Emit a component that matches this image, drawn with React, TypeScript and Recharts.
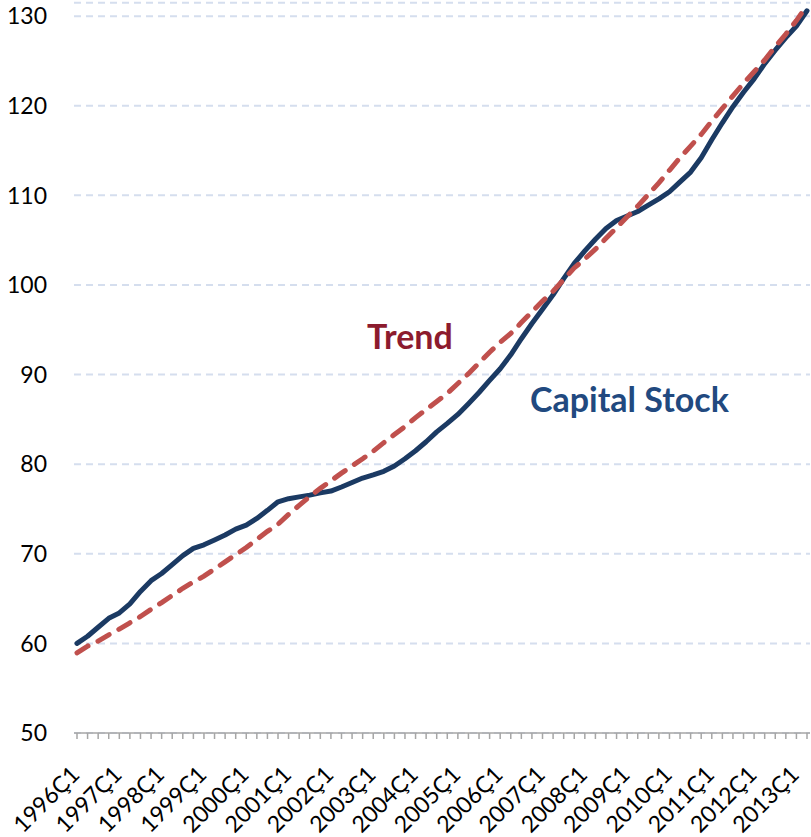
import React from 'react';
import { LineChart, Line, XAxis, YAxis, CartesianGrid } from 'recharts';

const YEARS = [1996, 1997, 1998, 1999, 2000, 2001, 2002, 2003, 2004, 2005, 2006, 2007, 2008, 2009, 2010, 2011, 2012, 2013];
const QUARTERS = ['Ç1', 'Ç2', 'Ç3', 'Ç4'];
const CATEGORIES: string[] = YEARS.flatMap((y) => QUARTERS.map((q) => `${y}${q}`)).slice(0, 70);

const CAPITAL_STOCK = [
  60.0, 60.8, 61.8, 62.8, 63.4, 64.4, 65.8, 67.0, 67.8, 68.8,
  69.8, 70.6, 71.0, 71.55, 72.1, 72.75, 73.2, 73.95, 74.85, 75.8,
  76.15, 76.35, 76.55, 76.8, 77.0, 77.45, 77.95, 78.45, 78.8, 79.2,
  79.8, 80.6, 81.5, 82.5, 83.6, 84.55, 85.55, 86.75, 88.0, 89.35,
  90.65, 92.2, 94.0, 95.7, 97.3, 98.9, 100.7, 102.4, 103.8, 105.1,
  106.3, 107.2, 107.7, 108.2, 108.9, 109.6, 110.4, 111.5, 112.6, 114.2,
  116.2, 118.1, 119.9, 121.5, 123.0, 124.7, 126.2, 127.6, 128.9, 130.6,
];

const TREND = [
  58.95, 59.7, 60.25, 60.95, 61.6, 62.3, 63.0, 63.8, 64.55, 65.35,
  66.15, 66.85, 67.5, 68.3, 69.1, 69.9, 70.7, 71.6, 72.5, 73.3,
  74.4, 75.4, 76.4, 77.3, 78.15, 79.0, 79.8, 80.6, 81.45, 82.4,
  83.3, 84.2, 85.2, 86.1, 87.0, 87.9, 89.0, 90.1, 91.3, 92.5,
  93.6, 94.6, 95.8, 97.0, 98.2, 99.3, 100.6, 101.9, 102.9, 104.0,
  105.2, 106.4, 107.6, 108.8, 110.1, 111.4, 112.8, 114.2, 115.5, 116.8,
  118.3, 119.7, 121.1, 122.5, 123.8, 125.1, 126.6, 128.0, 129.5, 131.2,
];

const Y_TICKS = [50, 60, 70, 80, 90, 100, 110, 120, 130];

const DATA = CATEGORIES.map((c, i) => ({ q: c, capital: CAPITAL_STOCK[i], trend: TREND[i] }));

const FONT = 'Lato, "Open Sans", sans-serif';

const XTick = (props: any) => {
  const { x, y, payload, index } = props;
  const i = typeof index === 'number' ? index : payload.index;
  const ax = x + 4;
  const ay = y + 43;
  return (
    <g>
      <line x1={x} y1={y} x2={x} y2={y + 6} stroke="#A6A6A6" strokeWidth={1.5} />
      {i % 4 === 0 && (
        <text
          x={ax}
          y={ay}
          textAnchor="end"
          transform={`rotate(-45 ${ax} ${ay})`}
          fontFamily={FONT}
          fontSize={23}
          fill="#000"
        >
          {payload.value}
        </text>
      )}
    </g>
  );
};

export default function App() {
  return (
    <div style={{ position: 'absolute', left: 0, top: 0, width: 811, height: 837, background: '#fff' }}>
      <LineChart
        width={811}
        height={837}
        data={DATA}
        margin={{ top: 2.7, right: 1, left: 0, bottom: 0 }}
      >
        <CartesianGrid vertical={false} stroke="#D5DEEE" strokeWidth={2} strokeDasharray="7 5" />
        <XAxis
          dataKey="q"
          height={104}
          interval={0}
          tickLine={false}
          tickSize={0}
          tickMargin={0}
          padding={{ left: 3, right: 3 }}
          axisLine={{ stroke: '#A6A6A6', strokeWidth: 1.5 }}
          tick={<XTick />}
        />
        <YAxis
          width={74}
          domain={[50, 131.5]}
          ticks={Y_TICKS}
          allowDataOverflow
          axisLine={false}
          tickLine={false}
          tickSize={0}
          tickMargin={27}
          tick={{ fontFamily: FONT, fontSize: 23, fill: '#000' }}
        />
        <Line
          type="linear"
          dataKey="capital"
          stroke="#1B3A63"
          strokeWidth={5}
          dot={false}
          isAnimationActive={false}
          strokeLinejoin="round"
          strokeLinecap="round"
        />
        <Line
          type="linear"
          dataKey="trend"
          stroke="#C0504D"
          strokeWidth={5}
          strokeDasharray="13 11"
          strokeLinecap="round"
          dot={false}
          isAnimationActive={false}
        />
      </LineChart>
      <svg
        width={811}
        height={837}
        style={{ position: 'absolute', left: 0, top: 0, pointerEvents: 'none' }}
      >
        <text x={367} y={349} fontFamily={FONT} fontWeight="bold" fontSize={34} fill="#8C1B2E">
          Trend
        </text>
        <text x={530} y={412} fontFamily={FONT} fontWeight="bold" fontSize={34} fill="#21497F">
          Capital Stock
        </text>
      </svg>
    </div>
  );
}
